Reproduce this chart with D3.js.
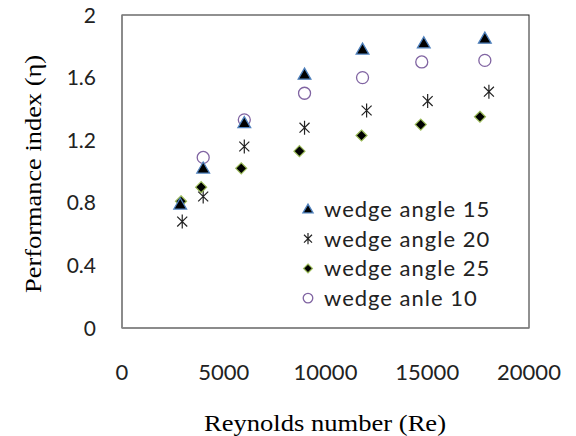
<!DOCTYPE html>
<html>
<head>
<meta charset="utf-8">
<script src="https://d3js.org/d3.v7.min.js"></script>
<style>
  body { margin: 0; background: white; }
</style>
</head>
<body>
<svg id="chart" width="576" height="436"></svg>
<script>
// series data
var re15 = [2860, 3990, 6010, 8970, 11820, 14830, 17830];
var eta15 = [0.79, 1.02, 1.31, 1.62, 1.78, 1.82, 1.85];

var re20 = [2960, 3990, 6010, 8970, 12020, 15020, 18030];
var eta20 = [0.68, 0.84, 1.16, 1.28, 1.39, 1.45, 1.51];

var re25 = [2900, 3890, 5860, 8720, 11770, 14680, 17590];
var eta25 = [0.81, 0.90, 1.02, 1.13, 1.23, 1.30, 1.35];

var re10 = [3990, 6010, 8970, 11820, 14730, 17830];
var eta10 = [1.09, 1.33, 1.50, 1.60, 1.70, 1.71];

var xTicks = [0, 5000, 10000, 15000, 20000];
var yTicks = [0, 0.4, 0.8, 1.2, 1.6, 2];
var legendNames = ["wedge angle 15", "wedge angle 20", "wedge angle 25", "wedge anle 10"];

var svg = d3.select("#chart");

var x = d3.scaleLinear().domain([0, 20000]).range([122, 529]);
var y = d3.scaleLinear().domain([0, 2]).range([328, 15]);

var tickFont = "Lato, 'Open Sans', sans-serif";
var titleFont = "'Liberation Serif', 'Times New Roman', serif";

// plot frame
svg.append("rect")
  .attr("x", x(0)).attr("y", y(2))
  .attr("width", x(20000) - x(0)).attr("height", y(0) - y(2))
  .attr("fill", "white").attr("stroke", "#222").attr("stroke-width", 1);

// left and bottom axis lines are grey
svg.append("line").attr("x1", x(0)).attr("x2", x(0)).attr("y1", y(0)).attr("y2", y(2))
  .attr("stroke", "#8a8a8a").attr("stroke-width", 1.5);
svg.append("line").attr("x1", x(0)).attr("x2", x(20000)).attr("y1", y(0)).attr("y2", y(0))
  .attr("stroke", "#8a8a8a").attr("stroke-width", 1.5);

// tick labels
svg.selectAll(".ytick").data(yTicks).enter().append("text")
  .attr("x", 96).attr("y", function(d) { return y(d); })
  .attr("dy", "0.36em").attr("text-anchor", "end")
  .attr("font-family", tickFont).attr("font-size", 21).attr("fill", "#222")
  .text(function(d) { return d; });

svg.selectAll(".xtick").data(xTicks).enter().append("text")
  .attr("x", function(d) { return x(d); }).attr("y", 372)
  .attr("dy", "0.36em").attr("text-anchor", "middle")
  .attr("font-family", tickFont).attr("font-size", 22).attr("fill", "#222")
  .text(function(d) { return d; });

// axis titles
svg.append("text")
  .attr("x", 325).attr("y", 423).attr("dy", "0.35em")
  .attr("text-anchor", "middle")
  .attr("font-family", titleFont).attr("font-size", 23)
  .attr("textLength", 242).attr("lengthAdjust", "spacingAndGlyphs")
  .text("Reynolds number (Re)");

svg.append("text")
  .attr("transform", "translate(33,174) rotate(-90)")
  .attr("dy", "0.35em").attr("text-anchor", "middle")
  .attr("font-family", titleFont).attr("font-size", 23)
  .attr("textLength", 238).attr("lengthAdjust", "spacingAndGlyphs")
  .text("Performance index (\u03B7)");

// marker drawers
function triangle(g, s) {
  g.append("path")
    .attr("d", d3.symbol().type(d3.symbolTriangle).size(70 * s * s)())
    .attr("transform", "translate(0,1)")
    .attr("fill", "black").attr("stroke", "#4f81bd").attr("stroke-width", 1.3);
}
function asterisk(g, s) {
  var h = 7 * s, w = 5 * s;
  var p = "M0," + (-h) + "L0," + h + "M" + (-w) + "," + (-h * 0.7) + "L" + w + "," + (h * 0.7) +
          "M" + (-w) + "," + (h * 0.7) + "L" + w + "," + (-h * 0.7);
  g.append("path").attr("d", p).attr("stroke", "#222").attr("stroke-width", 1.2).attr("fill", "none");
}
function diamond(g, s) {
  var r = 5.5 * s;
  g.append("path").attr("d", "M0," + (-r) + "L" + r + ",0L0," + r + "L" + (-r) + ",0Z")
    .attr("fill", "black").attr("stroke", "#9bbb59").attr("stroke-width", 1.2);
}
function circle(g, s) {
  g.append("circle").attr("r", 6 * s)
    .attr("fill", "none").attr("stroke", "#8064a2").attr("stroke-width", 1.3);
}

var series = [
  { xs: re15, ys: eta15, draw: triangle },
  { xs: re20, ys: eta20, draw: asterisk },
  { xs: re25, ys: eta25, draw: diamond },
  { xs: re10, ys: eta10, draw: circle }
];

// draw in order so overlaps look like the original (circles behind others)
var order = [3, 1, 2, 0];
order.forEach(function(i) {
  var s = series[i];
  s.xs.forEach(function(v, j) {
    var g = svg.append("g").attr("transform", "translate(" + x(v) + "," + y(s.ys[j]) + ")");
    s.draw(g, 1);
  });
});

// legend
legendNames.forEach(function(name, i) {
  var ly = 209 + i * 29.7;
  var g = svg.append("g").attr("transform", "translate(308," + ly + ")");
  series[i].draw(g, 0.8);
  svg.append("text")
    .attr("x", 324).attr("y", ly).attr("dy", "0.36em")
    .attr("font-family", tickFont).attr("font-size", 22).attr("fill", "#222")
    .attr("letter-spacing", 1)
    .text(name);
});
</script>
</body>
</html>
